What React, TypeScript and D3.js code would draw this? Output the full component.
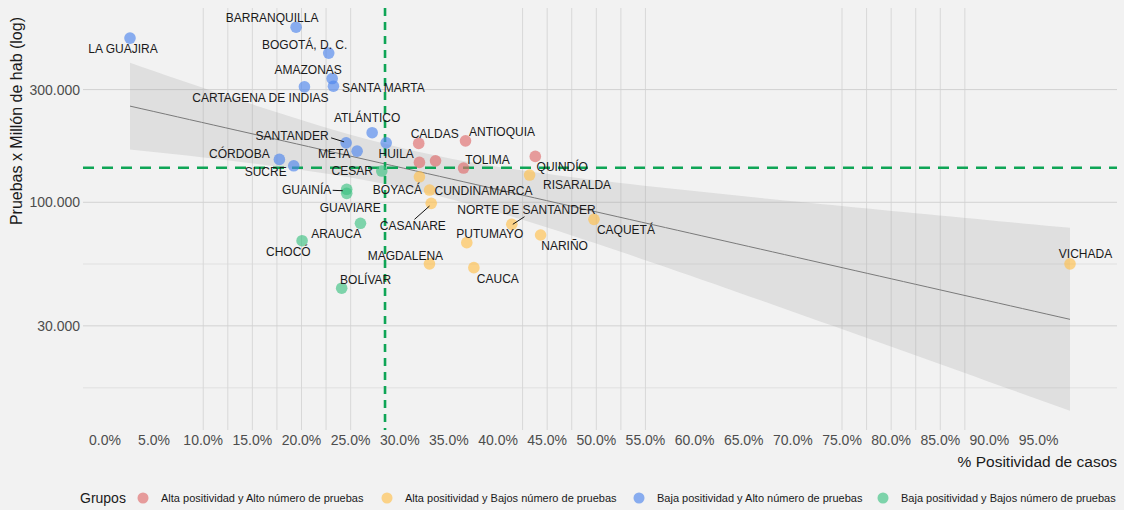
import React from "react"
import * as d3 from "d3"

// departamentos, % positividad y pruebas por millón de habitantes
const departamentos = [
  "LA GUAJIRA", "BARRANQUILLA", "BOGOTÁ, D. C.", "AMAZONAS", "SANTA MARTA", "CARTAGENA DE INDIAS",
  "ATLÁNTICO", "SANTANDER", "HUILA", "META", "CÓRDOBA", "SUCRE",
  "CESAR", "GUAINÍA", "GUAVIARE", "ARAUCA", "CHOCÓ", "BOLÍVAR",
  "CALDAS", "ANTIOQUIA", "VALLE DEL CAUCA", "SAN ANDRÉS", "TOLIMA", "QUINDÍO",
  "BOYACÁ", "RISARALDA", "CUNDINAMARCA", "CASANARE", "NORTE DE SANTANDER", "CAQUETÁ",
  "PUTUMAYO", "NARIÑO", "MAGDALENA", "CAUCA", "VICHADA",
]
const positividad = [
  2.55, 19.45, 22.77, 23.12, 23.25, 20.3,
  27.19, 24.54, 28.62, 25.66, 17.75, 19.21,
  28.17, 24.6, 24.6, 26.0, 20.06, 24.09,
  31.93, 36.69, 32.0, 33.64, 36.49, 43.79,
  32.0, 43.21, 33.03, 33.2, 41.4, 49.76,
  36.82, 44.33, 33.02, 37.54, 98.2,
]
const pruebas = [
  495500, 551000, 428000, 334000, 310000, 308000,
  197000, 178500, 178500, 164600, 151900, 142700,
  135600, 113500, 109100, 81500, 68800, 43300,
  177500, 182000, 147500, 149800, 139600, 156400,
  128200, 130400, 112700, 99000, 80700, 84700,
  67500, 72700, 54900, 52900, 54900,
]
const grupo = [
  2, 2, 2, 2, 2, 2, 2, 2, 2, 2, 2, 2,
  3, 3, 3, 3, 3, 3,
  0, 0, 0, 0, 0, 0,
  1, 1, 1, 1, 1, 1, 1, 1, 1, 1, 1,
]
const grupoNombres = [
  "Alta positividad y Alto número de pruebas",
  "Alta positividad y Bajos número de pruebas",
  "Baja positividad y Alto número de pruebas",
  "Baja positividad y Bajos número de pruebas",
]
const umbralPositividad = 28.5
const umbralPruebas = 140000

const xTicks = d3.range(0, 100, 5)
const xGrid = [10, 12.5, 15, 17.5, 20, 22.5, 25, 42.5, 45, 47.5, 50, 52.5, 55, 75, 77.5, 80, 82.5, 85, 87.5]
const yTicks = [30000, 100000, 300000]
const yMinor = [16400, 54800]

const colores = ["#de6b6b", "#ffc04d", "#4f86ec", "#3ec283"]

// where each label sits relative to its point: [dx, dy, leader line?]
const etiquetas: Record<string, number[]> = {
  "LA GUAJIRA": [-7, 10.6],
  "BARRANQUILLA": [-24, -9.4],
  "BOGOTÁ, D. C.": [-24, -8.7],
  "AMAZONAS": [-24, -9.3],
  "SANTA MARTA": [50, 1.7],
  "CARTAGENA DE INDIAS": [-44, 10.7],
  "ATLÁNTICO": [-5, -15.4],
  "SANTANDER": [-54, -7, -15, -5, -2, -1],
  "HUILA": [10, 10.6],
  "META": [-23, 3],
  "CÓRDOBA": [-40, -5.3],
  "SUCRE": [-28, 6],
  "CESAR": [-29.5, 0],
  "GUAINÍA": [-40, 0.4, -14, 1, -4, 1.4],
  "GUAVIARE": [3.5, 14],
  "ARAUCA": [-24.3, 10.7],
  "CHOCÓ": [-13.7, 11],
  "BOLÍVAR": [24, -9],
  "CALDAS": [16, -9.3],
  "ANTIOQUIA": [36.5, -9.4],
  "TOLIMA": [24, -8.7],
  "QUINDÍO": [27, 10.4],
  "BOYACÁ": [-22, 12.6],
  "RISARALDA": [47.5, 10],
  "CUNDINAMARCA": [54, 0.7],
  "CASANARE": [-18.4, 22.7, -16.7, 16, -1.7, 2.7],
  "NORTE DE SANTANDER": [14.7, -14.3, 1, 0, 12.7, -7.6],
  "CAQUETÁ": [32, 10],
  "PUTUMAYO": [23, -8.7],
  "NARIÑO": [24, 10.7],
  "MAGDALENA": [-24, -8.3],
  "CAUCA": [24, 10.6],
  "VICHADA": [15.5, -9.7],
}

const W = 1124
const H = 510
const left = 83
const right = 1117
const top = 8
const bottom = 430
const font = "'Liberation Sans', Arial, sans-serif"

// lm(log10(pruebas) ~ positividad) with a 95% band, like geom_smooth
function ajuste() {
  const ly = pruebas.map(Math.log10)
  const n = positividad.length
  const mx = d3.mean(positividad) as number
  const my = d3.mean(ly) as number
  const sxx = d3.sum(positividad, x => (x - mx) ** 2)
  const sxy = d3.sum(positividad.map((x, i) => (x - mx) * (ly[i] - my)))
  const b = sxy / sxx
  const a = my - b * mx
  const sse = d3.sum(positividad.map((x, i) => (ly[i] - a - b * x) ** 2))
  const s = Math.sqrt(sse / (n - 2))
  const t = 2.0345
  const [x0, x1] = d3.extent(positividad) as [number, number]
  return d3.range(80).map(i => {
    const x = x0 + ((x1 - x0) * i) / 79
    const fit = a + b * x
    const se = s * Math.sqrt(1 / n + (x - mx) ** 2 / sxx)
    return { x, fit, lo: fit - t * se, hi: fit + t * se }
  })
}

export default function App() {
  const banda = ajuste()

  const [xa, xb] = d3.extent(positividad) as [number, number]
  const xPad = (xb - xa) * 0.05
  const x = d3.scaleLinear().domain([xa - xPad, xb + xPad]).range([left, right])

  const logs = pruebas.map(Math.log10)
  const ya = Math.min(d3.min(logs) as number, d3.min(banda, d => d.lo) as number)
  const yb = Math.max(d3.max(logs) as number, d3.max(banda, d => d.hi) as number)
  const yPad = (yb - ya) * 0.05
  const y = d3.scaleLog().domain([10 ** (ya - yPad), 10 ** (yb + yPad)]).range([bottom, top])

  const area = d3.area<{ x: number; lo: number; hi: number }>()
    .x(d => x(d.x))
    .y0(d => y(10 ** d.lo))
    .y1(d => y(10 ** d.hi))
  const linea = d3.line<{ x: number; fit: number }>()
    .x(d => x(d.x))
    .y(d => y(10 ** d.fit))

  const fmtY = (v: number) => d3.format(",")(v).replace(/,/g, ".")

  const legendX = [143, 387, 639, 883]

  return (
    <div style={{ position: "absolute", left: 0, top: 0 }}>
      <svg width={W} height={H} style={{ display: "block", fontFamily: font }}>
        <rect width={W} height={H} fill="#f2f2f2" />

        {yMinor.map(v => (
          <line key={"m" + v} x1={left} x2={right} y1={y(v)} y2={y(v)} stroke="#e0e0e0" strokeWidth={1} />
        ))}
        {xGrid.map(v => (
          <line key={"g" + v} x1={x(v)} x2={x(v)} y1={top} y2={bottom} stroke="#d8d8d8" strokeWidth={1} />
        ))}
        {yTicks.map(v => (
          <line key={"y" + v} x1={left} x2={right} y1={y(v)} y2={y(v)} stroke="#d2d2d2" strokeWidth={1} />
        ))}

        <path d={area(banda) || ""} fill="#999999" fillOpacity={0.22} />
        <path d={linea(banda) || ""} fill="none" stroke="#7a7a7a" strokeWidth={1} />

        <line x1={left} x2={right} y1={y(umbralPruebas)} y2={y(umbralPruebas)}
          stroke="#0fa556" strokeWidth={2.6} strokeDasharray="11 8" />
        <line x1={x(umbralPositividad)} x2={x(umbralPositividad)} y1={top} y2={bottom}
          stroke="#0fa556" strokeWidth={2.6} strokeDasharray="8 6" />

        {positividad.map((v, i) => (
          <circle key={"p" + i} cx={x(v)} cy={y(pruebas[i])} r={5.8}
            fill={colores[grupo[i]]} fillOpacity={0.65} />
        ))}

        {departamentos.map((name, i) => {
          const e = etiquetas[name]
          if (!e) return null
          const px = x(positividad[i])
          const py = y(pruebas[i])
          return (
            <g key={"l" + i}>
              {e.length > 2 && (
                <line x1={px + e[2]} y1={py + e[3]} x2={px + e[4]} y2={py + e[5]} stroke="#111" strokeWidth={1} />
              )}
              <text x={px + e[0]} y={py + e[1]} dy="0.36em" textAnchor="middle" fontSize={12} fill="#1a1a1a">
                {name}
              </text>
            </g>
          )
        })}

        {yTicks.map(v => (
          <text key={"yt" + v} x={80} y={y(v)} dy="0.36em" textAnchor="end" fontSize={14} fill="#4d4d4d">
            {fmtY(v)}
          </text>
        ))}
        {xTicks.map(v => (
          <text key={"xt" + v} x={x(v)} y={440} dy="0.36em" textAnchor="middle" fontSize={14} fill="#4d4d4d">
            {d3.format(".1f")(v) + "%"}
          </text>
        ))}

        <text transform="translate(22,17) rotate(-90)" textAnchor="end" fontSize={16} fill="#1a1a1a">
          Pruebas x Millón de hab (log)
        </text>
        <text x={1117} y={467} textAnchor="end" fontSize={15.5} fill="#1a1a1a">
          % Positividad de casos
        </text>

        <text x={80} y={503} fontSize={14} fill="#1a1a1a">Grupos</text>
        {grupoNombres.map((g, i) => (
          <g key={"lg" + i}>
            <circle cx={legendX[i]} cy={498} r={5.5} fill={colores[i]} fillOpacity={0.65} />
            <text x={legendX[i] + 18} y={502} fontSize={11} fill="#1a1a1a">{g}</text>
          </g>
        ))}
      </svg>
    </div>
  )
}
